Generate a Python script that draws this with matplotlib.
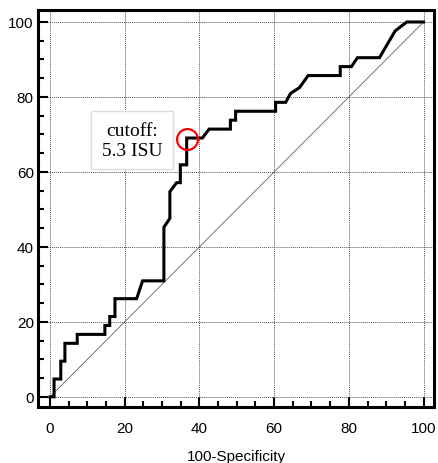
import numpy as np
import matplotlib
matplotlib.use("Agg")
import matplotlib.pyplot as plt
from matplotlib.ticker import MultipleLocator

# ROC curve vertices (100-Specificity, Sensitivity)
fpr = [0, 1.1, 1.1, 2.9, 2.9, 4.0, 4.0, 7.3, 7.3, 14.7, 14.7, 16.0, 16.0,
       17.4, 17.4, 23.2, 24.8, 30.5, 30.5, 32.1, 32.1, 33.9, 34.9, 34.9,
       36.6, 36.6, 40.8, 42.6, 48.3, 48.3, 49.7, 49.7, 60.4, 60.4, 63.1,
       64.4, 66.8, 69.1, 77.7, 77.7, 80.7, 82.3, 88.2, 92.4, 95.5, 100]
tpr = [0, 0, 4.76, 4.76, 9.52, 9.52, 14.29, 14.29, 16.67, 16.67, 19.05,
       19.05, 21.43, 21.43, 26.19, 26.19, 30.95, 30.95, 45.24, 47.62, 54.76,
       57.14, 57.14, 61.90, 61.90, 69.05, 69.05, 71.43, 71.43, 73.81, 73.81,
       76.19, 76.19, 78.57, 78.57, 80.95, 82.5, 85.71, 85.71, 88.10, 88.10,
       90.48, 90.48, 97.62, 100, 100]

cutoff_x, cutoff_y = 36.7, 68.7
cutoff_label = "cutoff:\n5.3 ISU"
ticks = [0, 20, 40, 60, 80, 100]

fig = plt.figure(figsize=(4.38, 4.64), dpi=100)
ax = fig.add_axes([38 / 438, 56 / 464, 396 / 438, 397 / 464])

ax.plot([0, 100], [0, 100], color='#444444', lw=0.5, zorder=2)
ax.plot(fpr, tpr, color='black', lw=2.2, zorder=3, solid_joinstyle='miter')
ax.plot([cutoff_x], [cutoff_y], marker='o', ms=15, mfc='none', mec='red',
        mew=1.6, zorder=4)

ax.text(22, 68.4, cutoff_label, ha='center', va='center', fontsize=14,
        family='Liberation Serif', linespacing=1.2,
        bbox=dict(boxstyle='square,pad=0.55', fc='white', ec='#dddddd', lw=1),
        zorder=5)

ax.set_xlim(-3.2, 102.8)
ax.set_ylim(-2.7, 103.2)
ax.set_xticks(ticks)
ax.set_yticks(ticks)
ax.xaxis.set_minor_locator(MultipleLocator(5))
ax.yaxis.set_minor_locator(MultipleLocator(5))
ax.grid(True, which='major', color='#555555', lw=0.7, linestyle=(0, (1, 1)))

for s in ax.spines.values():
    s.set_linewidth(2.2)
ax.tick_params(which='major', direction='in', length=7.5, width=1.5,
               labelsize=11, pad=10)
ax.tick_params(axis='y', which='major', pad=3)
ax.tick_params(which='minor', direction='in', length=4.5, width=1.5)
for lab in ax.get_xticklabels() + ax.get_yticklabels():
    lab.set_family('Liberation Sans')

ax.set_xlabel('100-Specificity', fontsize=11, family='Liberation Sans',
              labelpad=10)

fig.savefig('out.png', dpi=100)
